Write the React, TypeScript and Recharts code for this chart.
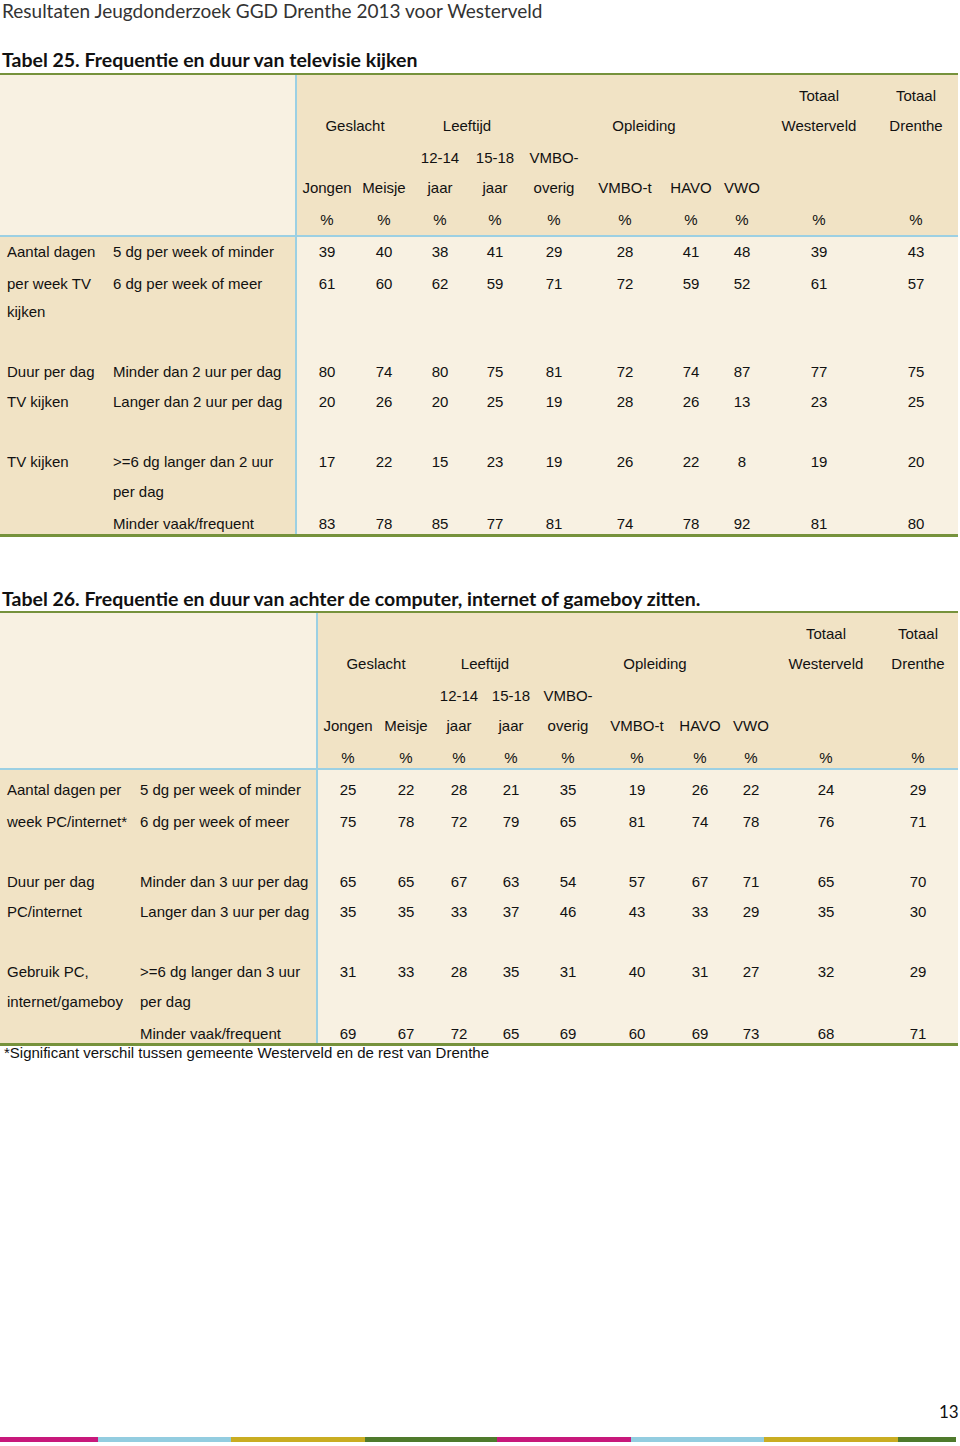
import React from 'react';
import { BarChart, Bar, XAxis, YAxis } from 'recharts';

// header labels shared by both tables
const groupLabels = ['Geslacht', 'Leeftijd', 'Opleiding'];
const totalTop = ['Totaal', 'Totaal'];
const totalBottom = ['Westerveld', 'Drenthe'];
const subTop = ['', '', '12-14', '15-18', 'VMBO-', '', '', '', '', ''];
const subBottom = ['Jongen', 'Meisje', 'jaar', 'jaar', 'overig', 'VMBO-t', 'HAVO', 'VWO', '', ''];
const unitRow = ['%', '%', '%', '%', '%', '%', '%', '%', '%', '%'];

// Tabel 25
const tvGroup = ['Aantal dagen', 'per week TV', 'kijken', 'Duur per dag', 'TV kijken', 'TV kijken', '', ''];
const tvLabel = [
  '5 dg per week of minder', '6 dg per week of meer', '', 'Minder dan 2 uur per dag',
  'Langer dan 2 uur per dag', '>=6 dg langer dan 2 uur', 'per dag', 'Minder vaak/frequent',
];
const tvValues = [
  [39, 40, 38, 41, 29, 28, 41, 48, 39, 43],
  [61, 60, 62, 59, 71, 72, 59, 52, 61, 57],
  [],
  [80, 74, 80, 75, 81, 72, 74, 87, 77, 75],
  [20, 26, 20, 25, 19, 28, 26, 13, 23, 25],
  [17, 22, 15, 23, 19, 26, 22, 8, 19, 20],
  [],
  [83, 78, 85, 77, 81, 74, 78, 92, 81, 80],
];

// Tabel 26
const pcGroup = ['Aantal dagen per', 'week PC/internet*', 'Duur per dag', 'PC/internet', 'Gebruik PC,', 'internet/gameboy', ''];
const pcLabel = [
  '5 dg per week of minder', '6 dg per week of meer', 'Minder dan 3 uur per dag', 'Langer dan 3 uur per dag',
  '>=6 dg langer dan 3 uur', 'per dag', 'Minder vaak/frequent',
];
const pcValues = [
  [25, 22, 28, 21, 35, 19, 26, 22, 24, 29],
  [75, 78, 72, 79, 65, 81, 74, 78, 76, 71],
  [65, 65, 67, 63, 54, 57, 67, 71, 65, 70],
  [35, 35, 33, 37, 46, 43, 33, 29, 35, 30],
  [31, 33, 28, 35, 31, 40, 31, 27, 32, 29],
  [],
  [69, 67, 72, 65, 69, 60, 69, 73, 68, 71],
];

// footer stripe segments
const stripeLengths = [98, 133, 134, 132, 134, 133, 134, 58];
const stripeColors = ['#c8187b', '#93cde0', '#c9ad22', '#4f7a2c', '#c8187b', '#93cde0', '#c9ad22', '#4f7a2c'];

const DARK = '#f1e3c5';
const LIGHT = '#f8f1e2';
const BLUE = '#9cd0e3';
const GREEN = '#76923c';
const ARIAL = '"Liberation Sans", Arial, sans-serif';
const CALIBRI = 'Lato, "Open Sans", sans-serif';

type TxtProps = { x: number; y: number; center?: boolean; children: React.ReactNode; style?: React.CSSProperties };
function Txt({ x, y, center, children, style }: TxtProps) {
  return (
    <div
      style={{
        position: 'absolute',
        left: center ? x - 100 : x,
        top: y - 10,
        width: center ? 200 : undefined,
        textAlign: center ? 'center' : 'left',
        lineHeight: '20px',
        whiteSpace: 'nowrap',
        fontFamily: ARIAL,
        fontSize: 15,
        color: '#111',
        ...style,
      }}
    >
      {children}
    </div>
  );
}

type TableProps = {
  top: number; headBottom: number; bottom: number; divider: number;
  cols: number[]; headY: number[]; groupX: number[]; labelX: number;
  rowY: number[]; group: string[]; label: string[]; values: number[][];
};

function DataTable(p: TableProps) {
  return (
    <>
      {/* backgrounds */}
      <div style={{ position: 'absolute', left: 0, top: p.top, width: p.divider, height: p.headBottom - p.top, background: LIGHT }} />
      <div style={{ position: 'absolute', left: p.divider, top: p.top, width: 958 - p.divider, height: p.headBottom - p.top, background: DARK }} />
      <div style={{ position: 'absolute', left: 0, top: p.headBottom, width: p.divider, height: p.bottom - p.headBottom, background: DARK }} />
      <div style={{ position: 'absolute', left: p.divider, top: p.headBottom, width: 958 - p.divider, height: p.bottom - p.headBottom, background: LIGHT }} />
      {/* lines */}
      <div style={{ position: 'absolute', left: 0, top: p.headBottom - 1, width: 958, height: 2, background: BLUE }} />
      <div style={{ position: 'absolute', left: p.divider - 1, top: p.top, width: 2, height: p.bottom - p.top, background: BLUE }} />
      <div style={{ position: 'absolute', left: 0, top: p.top - 1, width: 958, height: 2, background: GREEN }} />
      <div style={{ position: 'absolute', left: 0, top: p.bottom - 1, width: 958, height: 3, background: GREEN }} />
      {/* header */}
      {totalTop.map((t, i) => <Txt key={'tt' + i} x={p.cols[8 + i]} y={p.headY[0]} center>{t}</Txt>)}
      {groupLabels.map((t, i) => <Txt key={'g' + i} x={p.groupX[i]} y={p.headY[1]} center>{t}</Txt>)}
      {totalBottom.map((t, i) => <Txt key={'tb' + i} x={p.cols[8 + i]} y={p.headY[1]} center>{t}</Txt>)}
      {subTop.map((t, i) => t && <Txt key={'st' + i} x={p.cols[i]} y={p.headY[2]} center>{t}</Txt>)}
      {subBottom.map((t, i) => t && <Txt key={'sb' + i} x={p.cols[i]} y={p.headY[3]} center>{t}</Txt>)}
      {unitRow.map((t, i) => <Txt key={'u' + i} x={p.cols[i]} y={p.headY[4]} center>{t}</Txt>)}
      {/* body */}
      {p.rowY.map((y, r) => (
        <React.Fragment key={'r' + r}>
          {p.group[r] && <Txt x={7} y={y}>{p.group[r]}</Txt>}
          {p.label[r] && <Txt x={p.labelX} y={y}>{p.label[r]}</Txt>}
          {p.values[r].map((v, c) => <Txt key={c} x={p.cols[c]} y={y} center>{v}</Txt>)}
        </React.Fragment>
      ))}
    </>
  );
}

function Stripe() {
  const row: Record<string, number | string> = { name: 'stripe' };
  stripeLengths.forEach((v, i) => { row['s' + i] = v; });
  const total = stripeLengths.reduce((a, b) => a + b, 0);
  return (
    <BarChart width={total} height={5} data={[row]} layout="vertical" margin={{ top: 0, right: 0, bottom: 0, left: 0 }} barCategoryGap={0}>
      <XAxis type="number" hide domain={[0, total]} />
      <YAxis type="category" dataKey="name" hide />
      {stripeLengths.map((_, i) => (
        <Bar key={i} dataKey={'s' + i} stackId="a" fill={stripeColors[i]} isAnimationActive={false} />
      ))}
    </BarChart>
  );
}

export default function App() {
  return (
    <div style={{ position: 'absolute', left: 0, top: 0, width: 960, height: 1446, background: '#fff', overflow: 'hidden' }}>
      <Txt x={2} y={11} style={{ fontFamily: CALIBRI, fontSize: 19, color: '#333' }}>
        Resultaten Jeugdonderzoek GGD Drenthe 2013 voor Westerveld
      </Txt>
      <Txt x={2} y={60} style={{ fontFamily: CALIBRI, fontSize: 19.5, fontWeight: 700, color: '#111' }}>
        Tabel 25. Frequentie en duur van televisie kijken
      </Txt>
      <DataTable
        top={74} headBottom={236} bottom={535} divider={296}
        cols={[327, 384, 440, 495, 554, 625, 691, 742, 819, 916]}
        headY={[96, 126, 158, 188, 220]} groupX={[355, 467, 644]} labelX={113}
        rowY={[252, 284, 312, 372, 402, 462, 492, 524]}
        group={tvGroup} label={tvLabel} values={tvValues}
      />
      <Txt x={2} y={599} style={{ fontFamily: CALIBRI, fontSize: 19.5, fontWeight: 700, color: '#111' }}>
        Tabel 26. Frequentie en duur van achter de computer, internet of gameboy zitten.
      </Txt>
      <DataTable
        top={612} headBottom={769} bottom={1044} divider={317}
        cols={[348, 406, 459, 511, 568, 637, 700, 751, 826, 918]}
        headY={[634, 664, 696, 726, 758]} groupX={[376, 485, 655]} labelX={140}
        rowY={[790, 822, 882, 912, 972, 1002, 1034]}
        group={pcGroup} label={pcLabel} values={pcValues}
      />
      <Txt x={4} y={1053}>*Significant verschil tussen gemeente Westerveld en de rest van Drenthe</Txt>
      <Txt x={939} y={1412} style={{ fontFamily: CALIBRI, fontSize: 17, color: '#111' }}>13</Txt>
      <div style={{ position: 'absolute', left: 0, top: 1437 }}>
        <Stripe />
      </div>
    </div>
  );
}
